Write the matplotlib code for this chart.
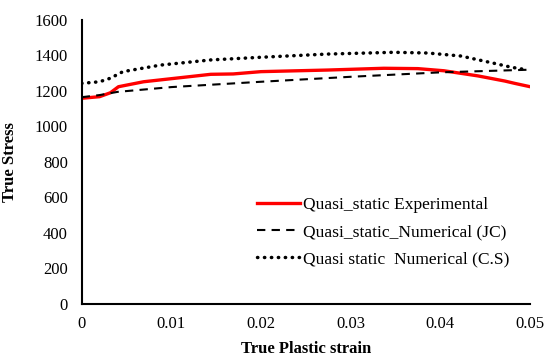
import numpy as np
import matplotlib.pyplot as plt

plt.rcParams['font.family'] = ['Liberation Serif', 'DejaVu Serif']

# Экспериментальная кривая (квазистатика)
strain_exp = [0, 0.0020, 0.0032, 0.0041, 0.0069, 0.0144, 0.0169, 0.0200, 0.0274,
              0.0337, 0.0375, 0.0404, 0.0442, 0.0472, 0.0483, 0.0503]
stress_exp = [1159, 1168, 1190, 1224, 1252, 1294, 1296, 1309, 1318,
              1328, 1326, 1314, 1285, 1256, 1243, 1221]

# Модель Джонсона-Кука
strain_jc = [0, 0.002, 0.004, 0.01, 0.02, 0.03, 0.04, 0.05]
stress_jc = [1165, 1177, 1195, 1222, 1252, 1280, 1305, 1320]

# Модель C.S
strain_cs = [0, 0.0020, 0.0032, 0.0046, 0.0088, 0.0144, 0.0200, 0.0274,
             0.0348, 0.0386, 0.0423, 0.0460, 0.0479, 0.0498]
stress_cs = [1243, 1252, 1272, 1309, 1346, 1375, 1390, 1408,
             1418, 1414, 1397, 1356, 1334, 1318]

fig = plt.figure(figsize=(5.46, 3.61), dpi=100)
ax = fig.add_axes([0.1496, 0.158, 0.821, 0.7866])

ax.plot(strain_exp, stress_exp, color='#ff0000', lw=2.4,
        label='Quasi_static Experimental')
ax.plot(strain_jc, stress_jc, color='black', lw=1.5, dashes=(4, 3),
        label='Quasi_static_Numerical (JC)')
ax.plot(strain_cs, stress_cs, color='black', lw=2.5, dashes=(0.1, 1.9),
        dash_capstyle='round', label='Quasi static  Numerical (C.S)')

ax.set_xlim(0, 0.05)
ax.set_ylim(0, 1600)
ax.set_xticks([0, 0.01, 0.02, 0.03, 0.04, 0.05])
ax.set_xticklabels(['0', '0.01', '0.02', '0.03', '0.04', '0.05'])
ax.set_yticks(range(0, 1601, 200))

for side in ['top', 'right']:
    ax.spines[side].set_visible(False)
for side in ['left', 'bottom']:
    ax.spines[side].set_linewidth(1.5)
ax.tick_params(length=0, labelsize=12)
ax.tick_params(axis='x', pad=9)
ax.tick_params(axis='y', pad=10)

ax.set_xlabel('True Plastic strain', fontsize=12, fontweight='bold', labelpad=6)
ax.set_ylabel('True Stress', fontsize=12, fontweight='bold', labelpad=12)

ax.legend(loc='upper left', bbox_to_anchor=(0.39, 0.376), frameon=False,
          fontsize=12.6, handlelength=2.5, handletextpad=0.15, labelspacing=0.6,
          borderpad=0, borderaxespad=0)

fig.savefig('out.png', dpi=100)
